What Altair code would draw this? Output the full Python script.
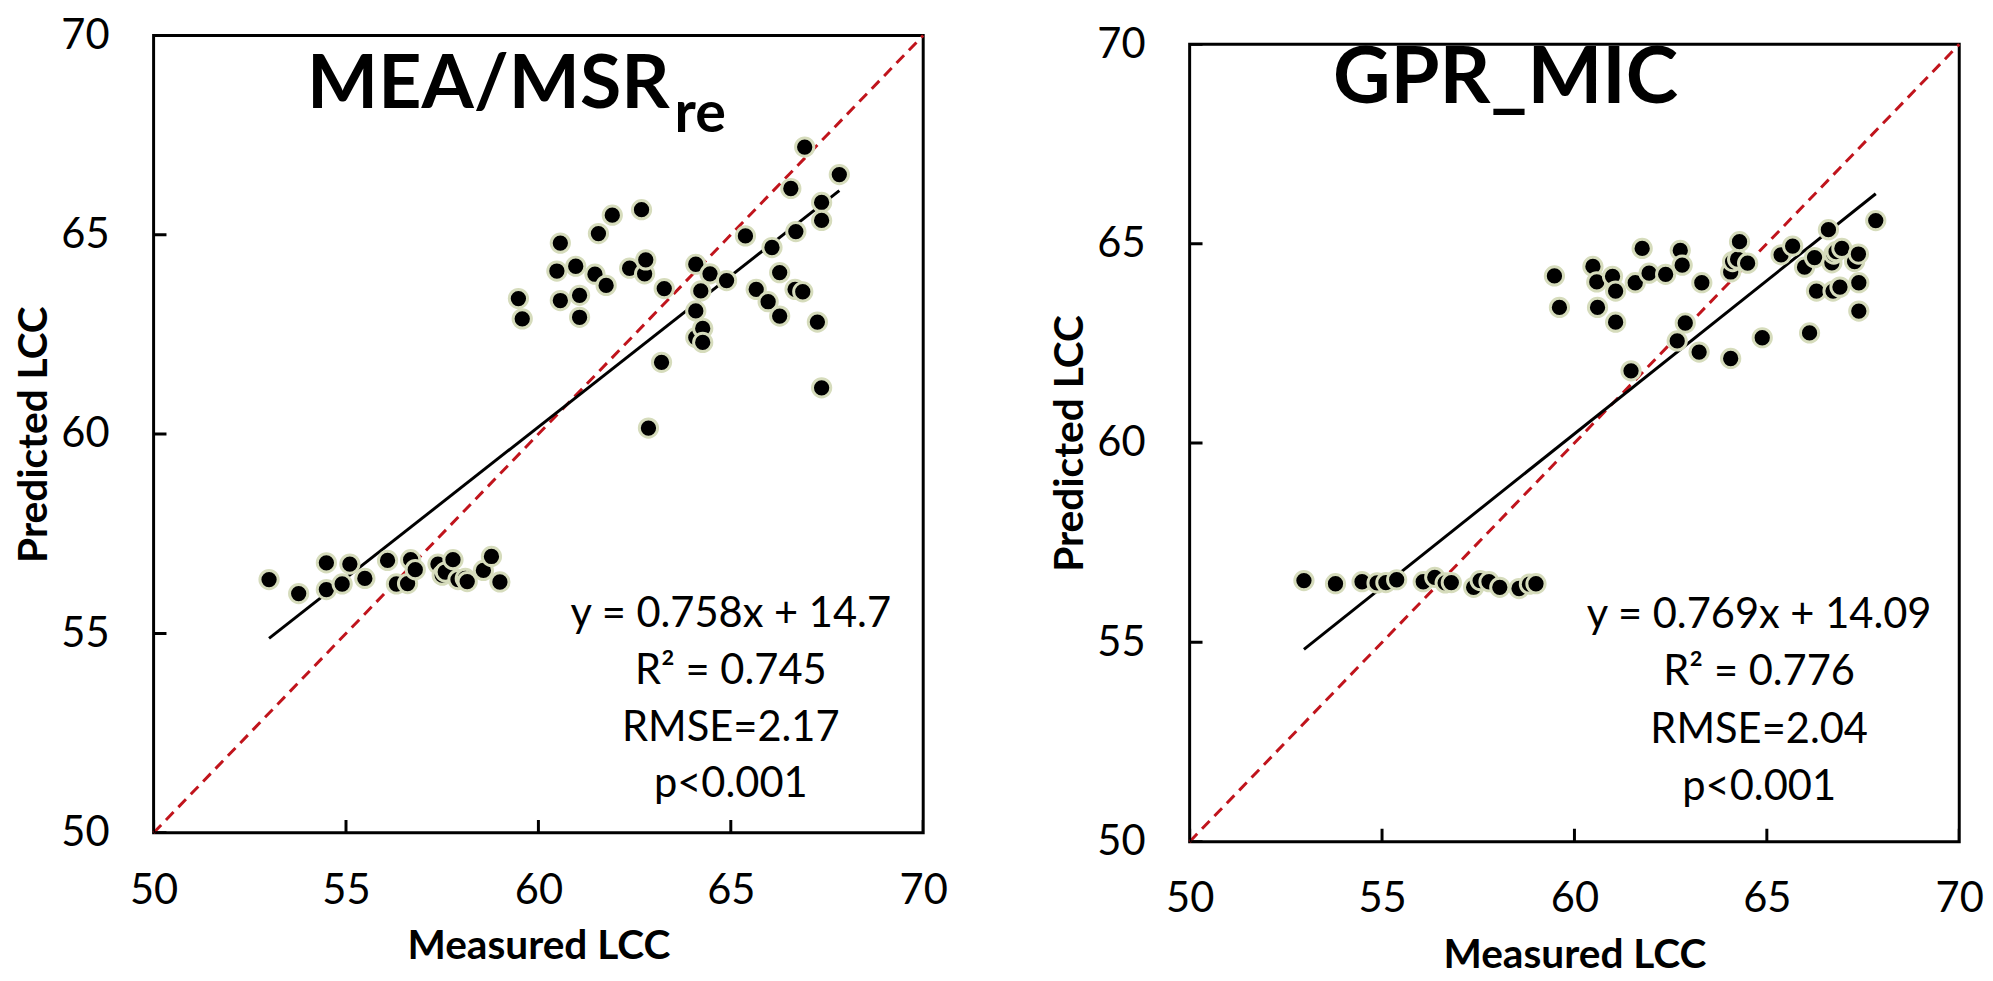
import altair as alt
import pandas as pd

# ---------------- data ----------------
mea_measured = [53.0, 53.77, 54.49, 54.49, 54.9, 55.1, 55.49, 56.08, 56.31, 56.6,
                56.68, 56.8, 57.39, 57.5, 57.58, 57.78, 57.91, 58.1, 58.15, 58.57,
                58.78, 59.0,
                59.48, 59.58, 60.48, 60.57, 60.57, 60.97, 61.07, 61.07, 61.47, 61.56,
                61.76, 61.92, 62.37, 62.68, 62.76, 62.79, 62.86, 63.2, 63.27, 64.09,
                64.09, 64.09, 64.22, 64.27, 64.27, 64.46, 64.89, 65.38, 65.66, 65.97,
                66.07, 66.27, 66.27, 66.56, 66.67, 66.69, 66.87, 66.92, 67.25, 67.36,
                67.36, 67.36, 67.82]
mea_predicted = [56.35, 56.0, 56.77, 56.1, 56.24, 56.74, 56.38, 56.83, 56.24, 56.25,
                 56.85, 56.6, 56.74, 56.46, 56.54, 56.85, 56.35, 56.38, 56.3, 56.58,
                 56.93, 56.29,
                 63.4, 62.89, 64.09, 64.79, 63.35, 64.21, 63.48, 62.93, 64.01, 65.03,
                 63.73, 65.49, 64.16, 65.63, 64.02, 64.37, 60.15, 61.8, 63.65, 64.26,
                 63.09, 62.42, 63.59, 62.65, 62.3, 64.02, 63.85, 64.97, 63.63, 63.32,
                 64.68, 64.05, 62.96, 66.16, 63.63, 65.08, 63.57, 67.2, 62.81, 65.81,
                 65.36, 61.16, 66.51]

gpr_measured = [52.97, 53.79, 54.48, 54.87, 55.1, 55.38, 56.07, 56.37, 56.64, 56.8,
                57.38, 57.55, 57.78, 58.06, 58.56, 58.83, 59.0,
                59.48, 59.61, 60.48, 60.58, 60.6, 60.99, 61.07, 61.07, 61.47, 61.58,
                61.76, 61.94, 62.37, 62.67, 62.75, 62.8, 62.88, 63.24, 63.31, 64.06,
                64.06, 64.11, 64.24, 64.29, 64.5, 64.88, 65.37, 65.67, 65.98, 66.11,
                66.24, 66.29, 66.6, 66.69, 66.72, 66.74, 66.8, 66.9, 66.95, 67.28,
                67.38, 67.39, 67.39, 67.83]
gpr_predicted = [56.55, 56.47, 56.52, 56.49, 56.5, 56.57, 56.52, 56.63, 56.49, 56.5,
                 56.38, 56.55, 56.52, 56.38, 56.35, 56.46, 56.47,
                 64.19, 63.4, 64.43, 64.04, 63.4, 64.18, 63.81, 63.03, 61.81, 64.02,
                 64.88, 64.26, 64.23, 62.56, 64.83, 64.46, 63.01, 62.28, 64.02, 62.12,
                 64.29, 64.55, 64.61, 65.05, 64.51, 62.64, 64.72, 64.94, 64.41, 62.76,
                 64.65, 63.81, 65.35, 64.52, 63.81, 64.74, 64.8, 63.91, 64.88, 64.55,
                 64.74, 64.02, 63.31, 65.58]

tick_values = [50, 55, 60, 65, 70]

mea_fit = (0.758, 14.7)
gpr_fit = (0.769, 14.09)

mea_stats = ["y = 0.758x + 14.7", "R² = 0.745", "RMSE=2.17", "p<0.001"]
gpr_stats = ["y = 0.769x + 14.09", "R² = 0.776", "RMSE=2.04", "p<0.001"]
mea_stats_x = 65.0
mea_stats_y = [55.49, 54.05, 52.63, 51.22]
gpr_stats_x = 64.8
gpr_stats_y = [55.69, 54.25, 52.81, 51.37]

FONT = "Lato"
DOMAIN = [50, 70]


def scales():
    xs = alt.Scale(domain=DOMAIN, nice=False, zero=False)
    ys = alt.Scale(domain=DOMAIN, nice=False, zero=False)
    return xs, ys


def panel(measured, predicted, fit, stats, sx, sy, title_layers):
    xs, ys = scales()
    xaxis = alt.Axis(values=tick_values, tickSize=0, domain=False, grid=False,
                     labelFont=FONT, labelFontSize=42, labelPadding=38, labelColor="black",
                     title="Measured LCC", titleFont=FONT, titleFontSize=41,
                     titleFontWeight="bold", titlePadding=16, titleColor="black",
                     labelFlush=False)
    yaxis = alt.Axis(values=tick_values, tickSize=0, domain=False, grid=False,
                     labelFont=FONT, labelFontSize=42, labelPadding=45, labelColor="black",
                     title="Predicted LCC", titleFont=FONT, titleFontSize=41,
                     titleFontWeight="bold", titlePadding=5, titleColor="black",
                     labelFlush=False)

    pts = pd.DataFrame({"m": measured, "p": predicted})
    base = alt.Chart(pts)

    diag = alt.Chart(pd.DataFrame({"m": DOMAIN, "p": DOMAIN})).mark_line(
        color="#c0141c", strokeDash=[11, 7], strokeWidth=3
    ).encode(x=alt.X("m:Q", scale=xs, axis=xaxis), y=alt.Y("p:Q", scale=ys, axis=yaxis))

    lo, hi = min(measured), max(measured)
    fit_df = pd.DataFrame({"m": [lo, hi], "p": [fit[0] * lo + fit[1], fit[0] * hi + fit[1]]})
    reg = alt.Chart(fit_df).mark_line(color="black", strokeWidth=3).encode(
        x=alt.X("m:Q", scale=xs), y=alt.Y("p:Q", scale=ys))

    dots = base.mark_point(filled=True, shape="circle", size=340, fill="black",
                           stroke="#d6dcbc", strokeWidth=3, opacity=1).encode(
        x=alt.X("m:Q", scale=xs), y=alt.Y("p:Q", scale=ys))

    tdf = pd.DataFrame({"t": tick_values, "base": [50] * len(tick_values)})
    xticks = alt.Chart(tdf).mark_tick(orient="vertical", size=26, thickness=3,
                                      color="black", clip=True, opacity=1).encode(
        x=alt.X("t:Q", scale=xs), y=alt.Y("base:Q", scale=ys))
    yticks = alt.Chart(tdf).mark_tick(orient="horizontal", size=26, thickness=3,
                                      color="black", clip=True, opacity=1).encode(
        y=alt.Y("t:Q", scale=ys), x=alt.X("base:Q", scale=xs))

    sdf = pd.DataFrame({"text": stats, "x": [sx] * len(stats), "y": sy})
    stat_txt = alt.Chart(sdf).mark_text(font=FONT, fontSize=42, color="black",
                                        align="center", baseline="middle").encode(
        x=alt.X("x:Q", scale=xs), y=alt.Y("y:Q", scale=ys), text="text:N")

    layers = [diag, reg, xticks, yticks, dots, stat_txt]
    for df, kw in title_layers:
        layers.append(alt.Chart(df).mark_text(font=FONT, fontWeight="bold", color="black",
                                              baseline="alphabetic", **kw).encode(
            x=alt.X("x:Q", scale=xs), y=alt.Y("y:Q", scale=ys), text="text:N"))

    return alt.layer(*layers).properties(width=777, height=805)


mea_title = [
    (pd.DataFrame({"text": ["MEA/MSR"], "x": [63.41], "y": [68.19]}),
     dict(fontSize=76, align="right")),
    (pd.DataFrame({"text": ["re"], "x": [63.41], "y": [67.57]}),
     dict(fontSize=58, align="left", dx=5)),
]
gpr_title = [
    (pd.DataFrame({"text": ["GPR_MIC"], "x": [58.21], "y": [68.53]}),
     dict(fontSize=80, align="center")),
]

left = panel(mea_measured, mea_predicted, mea_fit, mea_stats, mea_stats_x, mea_stats_y, mea_title)
right_plot = panel(gpr_measured, gpr_predicted, gpr_fit, gpr_stats, gpr_stats_x, gpr_stats_y, gpr_title)

# thin blank strip that drops the right panel a few pixels, as in the reference
spacer = alt.Chart(pd.DataFrame({"v": [0]})).mark_point(opacity=0).encode(
    x=alt.value(0), y=alt.value(0)
).properties(width=777, height=1, view=alt.ViewConfig(stroke="transparent"))
right = alt.vconcat(spacer, right_plot, spacing=-19)

chart = alt.hconcat(left, right, spacing=100).properties(
    padding={"left": 4, "top": 0, "right": 0, "bottom": 0},
    background="white",
).configure_view(stroke="black", strokeWidth=3)

chart.save("out.html", embed_options={"renderer": "svg", "actions": False})
